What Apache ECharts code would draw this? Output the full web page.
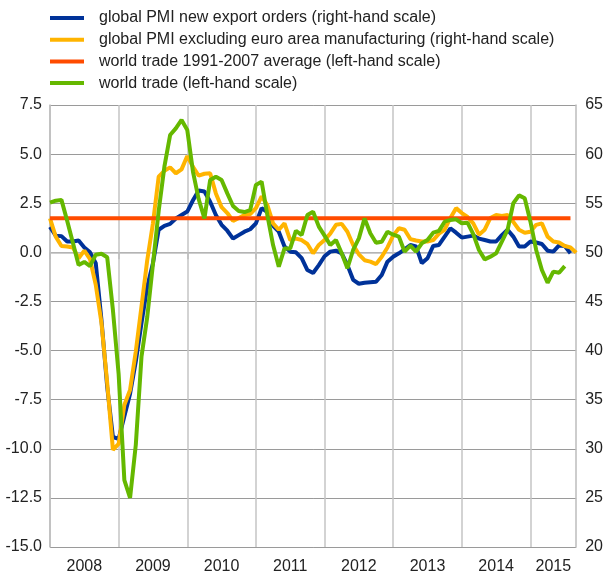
<!DOCTYPE html>
<html><head><meta charset="utf-8">
<script src="https://cdn.jsdelivr.net/npm/echarts@6/dist/echarts.min.js"></script>
<style>html,body{margin:0;padding:0;background:#fff}#c{width:606px;height:575px}</style>
</head><body><div id="c"></div>
<script>
// Monthly categories, Dec 2007 .. Aug 2015 (month-end positions)
const months = [];
for (let i = 0; i < 93; i++) {
  const d = 11 + i;
  months.push((2007 + Math.floor(d / 12)) + '-' + String(d % 12 + 1).padStart(2, '0'));
}
const yearLabels = ['2008','2009','2010','2011','2012','2013','2014','2015'];
const yearLabelIdx = [6, 18, 30, 42, 54, 66, 78, 88];

// global PMI new export orders (right-hand scale)
const pmiExport = [52.6,51.7,51.65,51.1,51.1,51.2,50.5,50.0,48.9,43.1,36.3,31.2,31.0,33.3,35.6,38.9,42.8,46.5,48.9,52.3,
52.7,52.9,53.45,53.8,54.15,55.3,56.3,56.2,55.15,53.8,52.8,52.2,51.4,51.75,52.1,52.35,52.95,54.5,54.1,52.7,
52.1,50.6,50.07,50.0,49.4,48.2,47.9,48.7,49.6,50.07,50.17,49.9,48.7,47.2,46.8,46.9,46.95,47.0,47.7,49.05,
49.55,49.9,50.3,50.75,50.6,48.9,49.4,50.65,50.75,51.6,52.45,52.0,51.5,51.6,51.7,51.4,51.25,51.1,51.1,51.75,
52.3,51.6,50.6,50.6,51.1,51.0,50.85,50.17,50.07,50.7,50.65,49.9,null];

// global PMI excluding euro area manufacturing (right-hand scale)
const pmiExEA = [53.46,51.6,50.65,50.6,50.5,49.4,50.17,49.3,46.7,42.8,36.7,29.9,30.5,34.45,36.0,39.9,44.5,49.2,52.95,57.7,
58.3,58.65,58.05,58.45,59.8,58.7,57.8,58.0,58.05,56.0,54.6,54.0,53.2,53.5,53.8,53.9,54.5,55.7,54.8,52.95,
52.3,52.95,51.25,51.4,51.25,50.85,49.9,50.75,51.25,51.9,52.8,52.9,52.1,50.75,49.8,49.2,49.05,48.8,49.55,50.5,
51.7,52.45,52.3,51.35,51.2,51.1,51.1,51.25,51.9,52.3,53.5,54.5,54.0,53.6,52.95,51.8,52.3,53.5,53.8,53.7,
53.8,53.1,52.3,52.0,52.1,52.8,52.95,51.6,51.1,51.0,50.65,50.5,49.97];

// world trade 1991-2007 average (left-hand scale)
const tradeAvgValue = 1.73;
const tradeAvg = months.map((m, i) => i <= 91 ? tradeAvgValue : null);

// world trade (left-hand scale)
const worldTrade = [2.53,2.63,2.67,1.61,0.49,-0.65,-0.49,-0.70,-0.12,-0.07,-0.25,-2.94,-6.2,-11.6,-12.5,-9.8,-5.3,-3.3,-0.6,2.1,
4.36,5.97,6.31,6.74,6.23,4.1,2.7,1.73,3.68,3.85,3.68,3.0,2.36,2.1,2.05,2.15,3.43,3.6,1.9,0.37,
-0.73,0.2,0.2,1.1,0.88,1.9,2.07,1.31,0.85,0.37,0.63,-0.05,-0.81,0.12,0.71,1.73,0.97,0.49,0.54,1.05,
0.9,0.8,0.03,0.34,0.03,0.46,0.63,1.0,1.09,1.56,1.65,1.68,1.48,1.51,0.93,0.12,-0.36,-0.22,-0.05,0.54,
1.14,2.5,2.9,2.75,1.56,0.12,-0.9,-1.55,-0.98,-1.04,-0.7,null,null];

const names = [
  'global PMI new export orders (right-hand scale)',
  'global PMI excluding euro area manufacturing (right-hand scale)',
  'world trade 1991-2007 average (left-hand scale)',
  'world trade (left-hand scale)'
];
const colors = ['#003299', '#ffb400', '#ff4b00', '#65b800'];
const FONT = 'Liberation Sans, Arial, sans-serif';

const chart = echarts.init(document.getElementById('c'), null, {renderer: 'canvas'});
const mkLine = (i, data, yIdx) => ({
  name: names[i], type: 'line', data: data, yAxisIndex: yIdx,
  showSymbol: false, symbol: 'none', connectNulls: false,
  lineStyle: {width: 4, color: colors[i]}, itemStyle: {color: colors[i]},
  emphasis: {disabled: true}
});
chart.setOption({
  animation: false,
  textStyle: {fontFamily: FONT},
  grid: {left: 50, right: 27, top: 105, bottom: 28, containLabel: false},
  legend: {
    orient: 'vertical', left: 50, top: 9, padding: 0, itemWidth: 34, itemHeight: 4, itemGap: 3.7,
    icon: 'rect', selectedMode: false,
    textStyle: {fontSize: 16, color: '#222', lineHeight: 18, padding: [0, 0, 0, 10], fontFamily: FONT},
    data: names
  },
  xAxis: {
    type: 'category', data: months, boundaryGap: false,
    axisLine: {show: true, lineStyle: {color: '#bdbdbd', width: 1.5}},
    axisTick: {show: true, interval: (i) => i % 12 === 0, length: 7, lineStyle: {color: '#bdbdbd', width: 1.5}},
    axisLabel: {
      interval: (i) => yearLabelIdx.indexOf(i) >= 0,
      formatter: (v, i) => yearLabels[yearLabelIdx.indexOf(i)] || v.slice(0, 4),
      fontSize: 16, color: '#222', margin: 12, fontFamily: FONT
    },
    splitLine: {show: true, interval: (i) => i % 12 === 0, lineStyle: {color: '#c4c4c4', width: 1.5}}
  },
  yAxis: [
    {
      type: 'value', min: -15, max: 7.5, interval: 2.5, position: 'left',
      axisLine: {show: true, lineStyle: {color: '#bdbdbd', width: 1.5}},
      axisTick: {show: false},
      axisLabel: {formatter: (v) => v.toFixed(1), fontSize: 16, color: '#222', margin: 8, fontFamily: FONT},
      splitLine: {show: true, lineStyle: {color: '#9a9a9a', width: 1}}
    },
    {
      type: 'value', min: 20, max: 65, interval: 5, position: 'right',
      axisLine: {show: true, lineStyle: {color: '#bdbdbd', width: 1.5}},
      axisTick: {show: false},
      axisLabel: {fontSize: 16, color: '#222', margin: 9, fontFamily: FONT},
      splitLine: {show: false}
    }
  ],
  series: [
    mkLine(0, pmiExport, 1),
    mkLine(1, pmiExEA, 1),
    mkLine(2, tradeAvg, 0),
    mkLine(3, worldTrade, 0)
  ]
});
</script>
</body></html>
